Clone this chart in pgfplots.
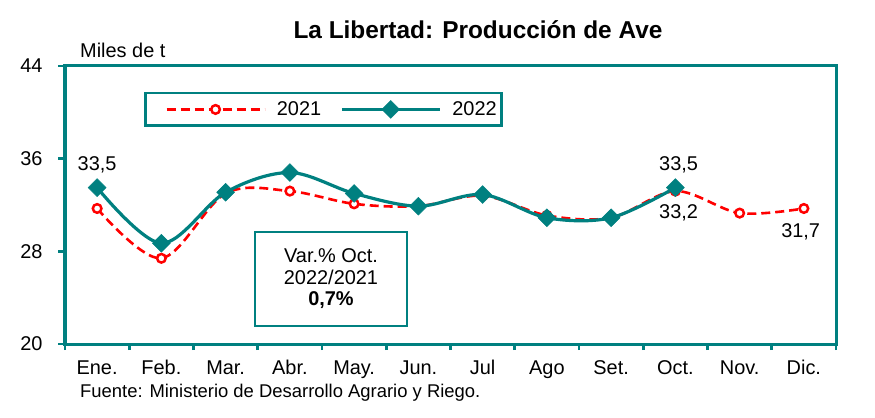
\documentclass[border=0pt]{standalone}
\usepackage{pgfplots}
\pgfplotsset{compat=1.18}
\usepackage{fontspec}
\setmainfont{Liberation Sans}
\definecolor{tealc}{RGB}{0,128,128}
\definecolor{redc}{RGB}{255,0,0}
\begin{document}
\begin{tikzpicture}
\begin{axis}[
  scale only axis, width=771bp, height=278bp,
  xmin=-0.5, xmax=11.5, ymin=20, ymax=44,
  axis line style={tealc, line width=3bp},
  every tick/.style={tealc, line width=2.8bp},
  tick align=outside,
  xtick={0,...,11},
  xticklabels={Ene.,Feb.,Mar.,Abr.,May.,Jun.,Jul,Ago,Set.,Oct.,Nov.,Dic.},
  minor xtick={-0.5,0.5,...,11.5},
  major x tick style={draw=none},
  minor tick length=6bp,
  major tick length=7bp,
  xtick pos=bottom, ytick pos=left,
  ytick={20,28,36,44},
  /pgf/number format/assume math mode=true,
  tick label style={font=\fontsize{20}{24}\selectfont},
  xticklabel style={yshift=-6bp},
  yticklabel style={xshift=-12bp},
  legend style={at={(79bp,252bp)}, anchor=north west, draw=tealc, line width=2.5bp,
    font=\fontsize{20}{24}\selectfont, legend columns=2,
    /tikz/every odd column/.append style={column sep=9bp},
    /tikz/every even column/.append style={column sep=0bp},
    nodes={inner xsep=2bp},
    inner xsep=3bp, inner ysep=6.5bp},
  legend cell align=left,
  legend image code/.code={\path (-17bp,0bp); \draw[mark repeat=2,mark phase=2,#1] plot coordinates {(0bp,0bp) (49bp,0bp) (98bp,0bp)};},
  clip=false,
]
\addplot[redc, line width=2.6bp, dash pattern=on 9bp off 5bp, smooth, tension=0.55,
  mark=*, mark size=4.3bp, mark options={solid, fill=white, draw=redc, line width=2.5bp}]
  coordinates {(0,31.7) (1,27.4) (2,33.0) (3,33.2) (4,32.1) (5,31.9) (6,32.8) (7,31.1) (8,30.9) (9,33.2) (10,31.3) (11,31.7)};
\addlegendentry{2021}
\addplot[tealc, line width=3.2bp, smooth, tension=0.55,
  mark=square*, mark size=6.3bp, mark options={rotate=45, fill=tealc, draw=tealc, line width=0.5bp}]
  coordinates {(0,33.5) (1,28.7) (2,33.1) (3,34.8) (4,33.0) (5,31.9) (6,32.9) (7,30.9) (8,30.9) (9,33.5)};
\addlegendentry{2022}
\node[font=\fontsize{20}{24}\selectfont] at (axis cs:0,35.45) {33,5};
\node[font=\fontsize{20}{24}\selectfont] at (axis cs:9.05,35.45) {33,5};
\node[font=\fontsize{20}{24}\selectfont] at (axis cs:9.05,31.3) {33,2};
\node[font=\fontsize{20}{24}\selectfont] at (axis cs:10.95,29.67) {31,7};
\end{axis}
\node[draw=tealc, line width=2.5bp, minimum width=152bp, minimum height=94bp, align=center,
  font=\fontsize{20}{21.5}\selectfont, inner sep=0pt] at (266bp,65bp) {Var.\% Oct.\\2022/2021\\\textbf{0,7\%}};
\node[font=\bfseries\fontsize{24.5}{28}\selectfont] at (413bp,314bp) {La Libertad: Producción de Ave};
\node[anchor=west, font=\fontsize{20}{24}\selectfont, inner sep=0pt] at (15bp,294bp) {Miles de t};
\node[anchor=west, font=\fontsize{18.5}{22}\selectfont, inner sep=0pt] at (15bp,-49bp) {Fuente: Ministerio de Desarrollo Agrario y Riego.};
\path[use as bounding box] (-65bp,-74bp) rectangle (810bp,344bp);
\end{tikzpicture}
\end{document}
